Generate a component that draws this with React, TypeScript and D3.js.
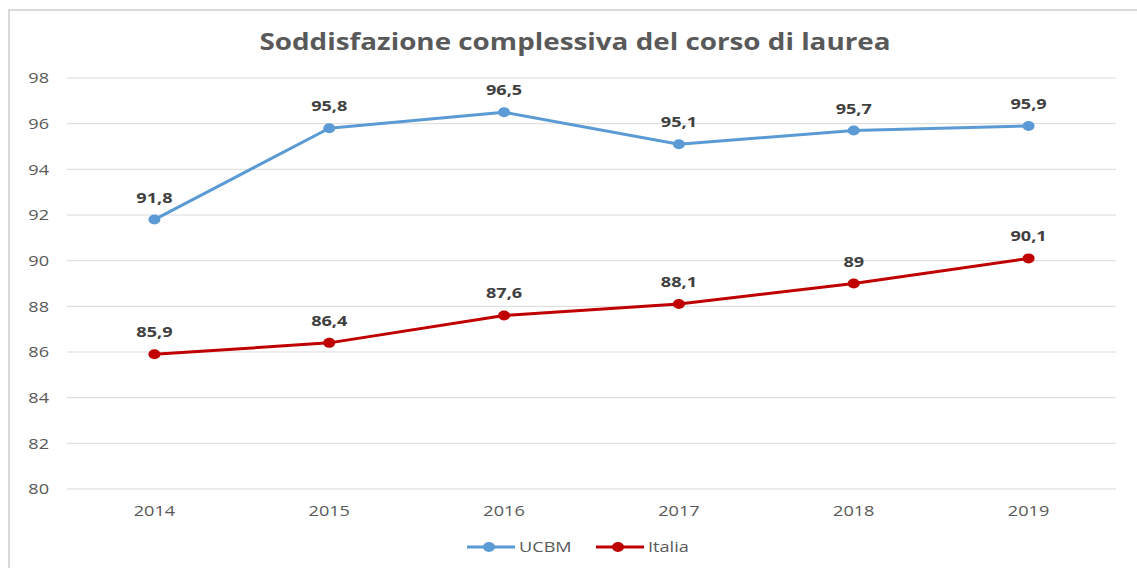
import React from "react";
import * as d3 from "d3";

const years = ["2014", "2015", "2016", "2017", "2018", "2019"];
const ucbm = [91.8, 95.8, 96.5, 95.1, 95.7, 95.9];
const italia = [85.9, 86.4, 87.6, 88.1, 89, 90.1];
const yTicks = [80, 82, 84, 86, 88, 90, 92, 94, 96, 98];
const seriesNames = ["UCBM", "Italia"];
const title = "Soddisfazione complessiva del corso di laurea";

const W = 1137, H = 568;
const FONT = "'Open Sans', 'Liberation Sans', sans-serif";
const SX = 1.21;

function T(props: { x: number; y: number; anchor?: string; size: number; weight?: string; fill: string; dy?: string; children: React.ReactNode }) {
  return (
    <text
      transform={`translate(${props.x},${props.y}) scale(${SX},1)`}
      dy={props.dy}
      textAnchor={props.anchor || "start"}
      fontSize={props.size}
      fontWeight={props.weight || "normal"}
      fill={props.fill}
    >
      {props.children}
    </text>
  );
}

export default function App() {
  const x = d3.scaleBand().domain(years).range([67, 1116]);
  const y = d3.scaleLinear().domain([80, 98]).range([489, 78]);
  const cx = (i: number) => x(years[i])! + x.bandwidth() / 2;
  const line = d3.line<number>().x((_, i) => cx(i)).y((d) => y(d));
  const fmt = (v: number) => String(v).replace(".", ",");
  const series = [
    { name: seriesNames[0], data: ucbm, color: "#5B9BD5" },
    { name: seriesNames[1], data: italia, color: "#C00000" },
  ];
  const legend = [
    { x0: 467, color: "#5B9BD5", name: seriesNames[0] },
    { x0: 596, color: "#C00000", name: seriesNames[1] },
  ];
  return (
    <svg width={W} height={H} style={{ position: "absolute", left: 0, top: 0, background: "#fff" }} fontFamily={FONT}>
      <rect x={9} y={10} width={W} height={H} fill="#fff" stroke="#d9d9d9" strokeWidth={2} />
      <T x={575} y={50} anchor="middle" size={23} weight="bold" fill="#595959">{title}</T>
      {yTicks.map((t) => (
        <g key={t}>
          <line x1={67} x2={1116} y1={y(t)} y2={y(t)} stroke="#d9d9d9" strokeWidth={1} />
          <T x={49} y={y(t)} dy="0.35em" anchor="end" size={15} fill="#595959">{t}</T>
        </g>
      ))}
      {years.map((yr, i) => (
        <T key={yr} x={cx(i)} y={516} anchor="middle" size={15} fill="#595959">{yr}</T>
      ))}
      {series.map((s) => (
        <g key={s.name}>
          <path d={line(s.data)!} fill="none" stroke={s.color} strokeWidth={3} strokeLinejoin="round" />
          {s.data.map((v, i) => (
            <g key={i}>
              <ellipse cx={cx(i)} cy={y(v)} rx={6} ry={5} fill={s.color} />
              <T x={cx(i)} y={y(v) - 17} anchor="middle" size={15} weight="bold" fill="#404040">{fmt(v)}</T>
            </g>
          ))}
        </g>
      ))}
      {legend.map((l) => (
        <g key={l.name}>
          <line x1={l.x0} x2={l.x0 + 48} y1={547} y2={547} stroke={l.color} strokeWidth={3} />
          <ellipse cx={l.x0 + 22} cy={547} rx={6} ry={5} fill={l.color} />
          <T x={l.x0 + 52} y={547} dy="0.35em" size={15} fill="#595959">{l.name}</T>
        </g>
      ))}
    </svg>
  );
}
